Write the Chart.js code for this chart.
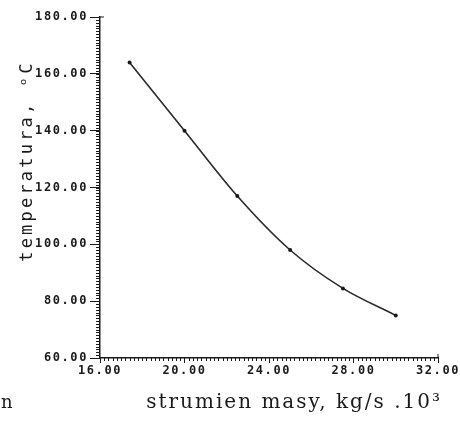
<!DOCTYPE html>
<html>
<head>
<meta charset="utf-8">
<script src="https://cdn.jsdelivr.net/npm/chart.js@4/dist/chart.umd.min.js"></script>
<style>
  html, body { margin: 0; padding: 0; background: #fff; }
  #wrap { width: 460px; height: 422px; }
</style>
</head>
<body>
<div id="wrap"><canvas id="chart" width="460" height="422"></canvas></div>
<script>
// --- DATA ---
const massFlow = [17.4, 20.0, 22.5, 25.0, 27.5, 30.0];
const temperature = [164, 140, 117, 98, 84.5, 75];
const xTicks = [16, 20, 24, 28, 32];
const yTicks = [60, 80, 100, 120, 140, 160, 180];
const xTitle = "strumien masy, kg/s .10³";
const yTitle = "temperatura, ᵒC";

const INK = "#1a1a1a";
const MONO = "'DejaVu Sans Mono', monospace";

// wider plotter-style lettering for the tick labels
const spacing = {
  id: "spacing",
  beforeDraw(chart) { chart.ctx.letterSpacing = "1.6px"; },
  afterDraw(chart) { chart.ctx.letterSpacing = "0px"; }
};

// minor ticks, corner marks and axis titles
const extras = {
  id: "extras",
  afterDraw(chart) {
    const { ctx } = chart;
    const x = chart.scales.x, y = chart.scales.y;
    ctx.save();
    ctx.strokeStyle = INK;
    ctx.lineWidth = 1;
    ctx.beginPath();
    for (let v = x.min; v <= x.max + 1e-6; v += 0.2) {
      const px = Math.round(x.getPixelForValue(v)) + 0.5;
      ctx.moveTo(px, y.bottom);
      ctx.lineTo(px, y.bottom + 3);
    }
    for (let v = y.min; v <= y.max + 1e-6; v += 1) {
      const py = Math.round(y.getPixelForValue(v)) + 0.5;
      ctx.moveTo(x.left, py);
      ctx.lineTo(x.left - 4, py);
    }
    const top = y.getPixelForValue(y.max);
    ctx.moveTo(x.left, top);
    ctx.lineTo(x.left + 4, top);
    const right = x.getPixelForValue(x.max);
    ctx.moveTo(right, y.bottom);
    ctx.lineTo(right, y.bottom - 4);
    ctx.stroke();

    ctx.fillStyle = INK;
    // x title
    ctx.letterSpacing = "2px";
    ctx.font = "20px 'DejaVu Serif', serif";
    ctx.textAlign = "right";
    ctx.textBaseline = "alphabetic";
    ctx.fillText(xTitle, x.right + 4, 408);
    // stray letter at the page edge
    ctx.textAlign = "left";
    ctx.letterSpacing = "0px";
    ctx.font = "18px 'DejaVu Serif', serif";
    ctx.fillText("n", 1, 408);
    // y title
    ctx.translate(32, 161);
    ctx.rotate(-Math.PI / 2);
    ctx.letterSpacing = "3.2px";
    ctx.font = "17px " + MONO;
    ctx.textAlign = "center";
    ctx.fillText(yTitle, 0, 0);
    ctx.restore();
  }
};

new Chart(document.getElementById("chart"), {
  type: "line",
  data: {
    datasets: [{
      data: massFlow.map((m, i) => ({ x: m, y: temperature[i] })),
      borderColor: "#2a2a2a",
      borderWidth: 1.6,
      pointRadius: 2,
      pointBackgroundColor: INK,
      pointBorderWidth: 0,
      cubicInterpolationMode: "monotone",
      fill: false
    }]
  },
  options: {
    responsive: false,
    animation: false,
    layout: { padding: { top: 17, right: 22, left: 0, bottom: 0 } },
    plugins: { legend: { display: false }, tooltip: { enabled: false } },
    scales: {
      x: {
        type: "linear",
        min: 16, max: 32,
        afterBuildTicks: (s) => { s.ticks = xTicks.map(v => ({ value: v })); },
        afterFit: (s) => { s.height = 64; },
        border: { color: INK, width: 1.5 },
        grid: { drawOnChartArea: false, drawTicks: true, tickLength: 5, color: INK },
        ticks: {
          color: INK, padding: 1, maxRotation: 0,
          font: { family: MONO, size: 12, weight: "bold" },
          callback: (v) => v.toFixed(2)
        }
      },
      y: {
        min: 60, max: 180,
        afterBuildTicks: (s) => { s.ticks = yTicks.map(v => ({ value: v })); },
        afterFit: (s) => { s.width = 100; },
        border: { color: INK, width: 1.5 },
        grid: { drawOnChartArea: false, drawTicks: true, tickLength: 10, color: INK },
        ticks: {
          color: INK, padding: 2,
          font: { family: MONO, size: 12, weight: "bold" },
          callback: (v) => v.toFixed(2)
        }
      }
    }
  },
  plugins: [spacing, extras]
});
</script>
</body>
</html>
